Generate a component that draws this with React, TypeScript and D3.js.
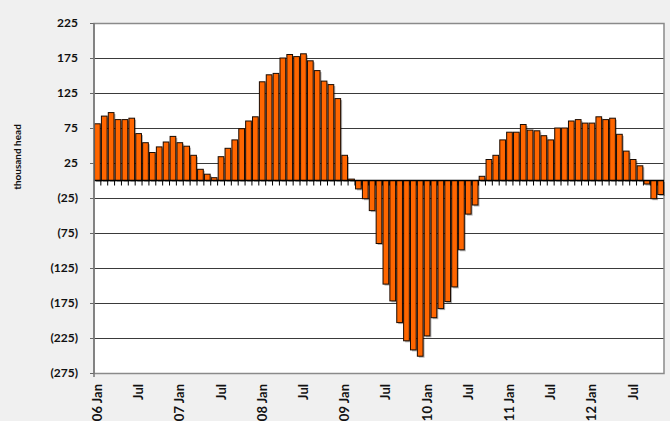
import React, { useEffect, useRef } from 'react';
import * as d3 from 'd3';

// monthly change, thousand head (Jan 2006 .. Nov 2012)
const v2006 = [81, 92, 97, 87, 87, 89, 67, 54, 40, 48, 55, 63];
const v2007 = [54, 49, 36, 16, 9, 4, 34, 46, 58, 74, 85, 91];
const v2008 = [141, 151, 153, 175, 180, 177, 181, 171, 157, 142, 137, 117];
const v2009 = [36, 2, -12, -26, -43, -90, -148, -172, -203, -229, -242, -251];
const v2010 = [-222, -196, -183, -173, -152, -99, -48, -35, 6, 30, 36, 58];
const v2011 = [69, 69, 80, 72, 71, 64, 58, 75, 75, 85, 87, 82];
const v2012 = [82, 91, 87, 89, 66, 42, 30, 21, -5, -26, -20];

const years = ['06', '07', '08', '09', '10', '11', '12'];
const yearValues = [v2006, v2007, v2008, v2009, v2010, v2011, v2012];
const yTicks = [225, 175, 125, 75, 25, -25, -75, -125, -175, -225, -275];

const W = 670,
  H = 421;

const App = () => {
  const ref = useRef(null);

  useEffect(() => {
    const svg = d3.select(ref.current);
    svg.selectAll('*').remove();

    // flatten into month rows
    const data = [];
    yearValues.forEach((vals, yi) => {
      vals.forEach((v, m) => {
        data.push({ key: years[yi] + '-' + m, year: years[yi], month: m, value: v });
      });
    });

    const margin = { top: 23, right: 6, bottom: 48, left: 94 };
    const x = d3
      .scaleBand()
      .domain(data.map(d => d.key))
      .range([margin.left, W - margin.right])
      .paddingInner(0.17)
      .paddingOuter(0.08);
    const y = d3
      .scaleLinear()
      .domain([-275, 225])
      .range([H - margin.bottom, margin.top]);

    const font = 'Lato, "Open Sans", sans-serif';

    svg.append('rect').attr('width', W).attr('height', H).attr('fill', '#f0f0f0');
    svg
      .append('rect')
      .attr('x', margin.left)
      .attr('y', margin.top)
      .attr('width', W - margin.right - margin.left)
      .attr('height', H - margin.bottom - margin.top)
      .attr('fill', '#fff');

    // gridlines
    svg
      .append('g')
      .selectAll('line')
      .data(yTicks)
      .join('line')
      .attr('x1', margin.left)
      .attr('x2', W - margin.right)
      .attr('y1', d => Math.round(y(d)) + 0.5)
      .attr('y2', d => Math.round(y(d)) + 0.5)
      .attr('stroke', '#3a3a3a')
      .attr('stroke-width', 1);

    // plot border
    svg
      .append('rect')
      .attr('x', margin.left)
      .attr('y', Math.round(y(225)) + 0.5)
      .attr('width', W - margin.right - margin.left)
      .attr('height', Math.round(y(-275)) - Math.round(y(225)))
      .attr('fill', 'none')
      .attr('stroke', '#8a8a8a')
      .attr('stroke-width', 1.5);

    // y ticks + labels
    const yAxis = svg.append('g');
    yAxis
      .selectAll('line')
      .data(yTicks)
      .join('line')
      .attr('x1', margin.left - 4)
      .attr('x2', margin.left)
      .attr('y1', d => Math.round(y(d)) + 0.5)
      .attr('y2', d => Math.round(y(d)) + 0.5)
      .attr('stroke', '#666');
    yAxis
      .selectAll('text')
      .data(yTicks)
      .join('text')
      .attr('x', margin.left - 16)
      .attr('y', d => y(d))
      .attr('dy', '0.35em')
      .attr('text-anchor', 'end')
      .attr('font-family', font)
      .attr('font-weight', 'bold')
      .attr('font-size', 12)
      .attr('fill', '#111')
      .text(d => (d < 0 ? `(${-d})` : d));

    svg
      .append('text')
      .attr('transform', `translate(21,157) rotate(-90)`)
      .attr('text-anchor', 'middle')
      .attr('font-family', font)
      .attr('font-weight', 'bold')
      .attr('font-size', 10)
      .attr('fill', '#111')
      .text('thousand head');

    // bar shadows then bars
    const y0 = y(0);
    svg
      .append('g')
      .selectAll('rect')
      .data(data)
      .join('rect')
      .attr('x', d => x(d.key) + 1.5)
      .attr('y', d => Math.min(y(d.value), y0) + 1.5)
      .attr('width', x.bandwidth())
      .attr('height', d => Math.abs(y(d.value) - y0))
      .attr('fill', '#000')
      .attr('opacity', 0.3);

    svg
      .append('g')
      .selectAll('rect')
      .data(data)
      .join('rect')
      .attr('x', d => x(d.key))
      .attr('y', d => Math.min(y(d.value), y0))
      .attr('width', x.bandwidth())
      .attr('height', d => Math.abs(y(d.value) - y0))
      .attr('fill', '#ff6600')
      .attr('stroke', '#1a0a00')
      .attr('stroke-width', 1);

    // zero axis with ticks between months
    svg
      .append('line')
      .attr('x1', margin.left)
      .attr('x2', W - margin.right)
      .attr('y1', y0)
      .attr('y2', y0)
      .attr('stroke', '#000')
      .attr('stroke-width', 1.5);
    const step = x.step();
    svg
      .append('g')
      .selectAll('line')
      .data(data.slice(1))
      .join('line')
      .attr('x1', d => x(d.key) - (step - x.bandwidth()) / 2)
      .attr('x2', d => x(d.key) - (step - x.bandwidth()) / 2)
      .attr('y1', y0)
      .attr('y2', y0 + 5)
      .attr('stroke', '#000');

    // left axis line
    svg
      .append('line')
      .attr('x1', margin.left)
      .attr('x2', margin.left)
      .attr('y1', y(225))
      .attr('y2', y(-275) + 4)
      .attr('stroke', '#777')
      .attr('stroke-width', 1.5);

    // x labels: every January and July
    const labelled = data.filter(d => d.month === 0 || d.month === 6);
    svg
      .append('g')
      .selectAll('text')
      .data(labelled)
      .join('text')
      .attr('transform', d => `translate(${x(d.key) + x.bandwidth() / 2},${H - margin.bottom + 11}) rotate(-90)`)
      .attr('dy', '0.35em')
      .attr('text-anchor', 'end')
      .attr('font-family', font)
      .attr('font-weight', 'bold')
      .attr('font-size', 13)
      .attr('fill', '#111')
      .text(d => (d.month === 0 ? `${d.year} Jan` : 'Jul'));
  }, []);

  return (
    <svg
      ref={ref}
      width={W}
      height={H}
      style={{ position: 'absolute', left: 0, top: 0 }}
    />
  );
};

export default App;
